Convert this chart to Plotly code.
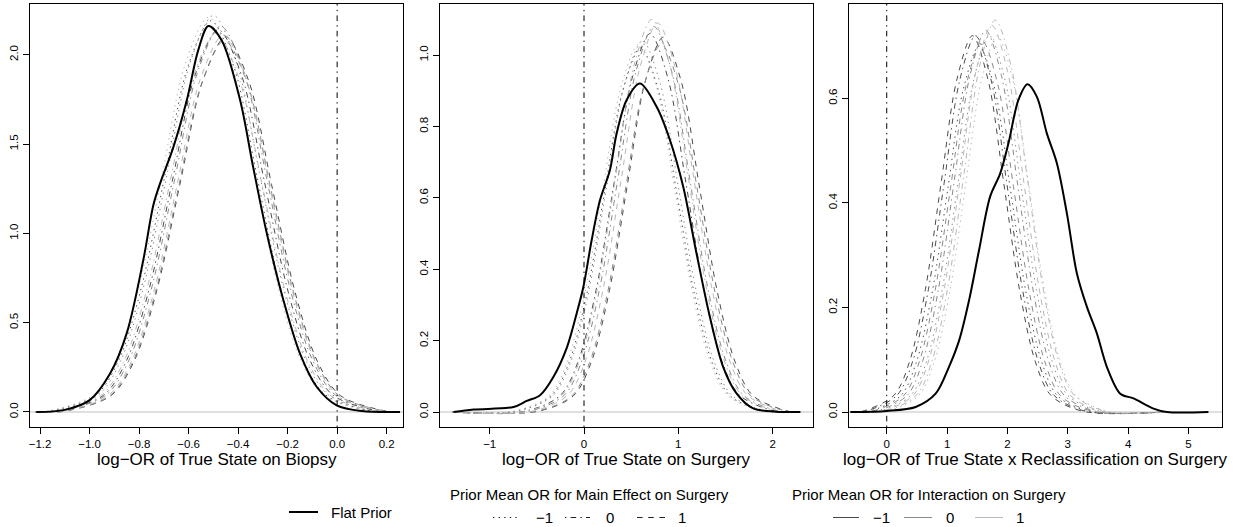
import plotly.graph_objects as go

# ---------------- data ----------------
# Panel 1: log-OR of True State on Biopsy
bio_flat_x = [-1.215, -1.10, -0.998, -0.917, -0.85, -0.783, -0.742, -0.715, -0.662, -0.607, -0.561, -0.52,
              -0.466, -0.392, -0.339, -0.284, -0.217, -0.15, -0.082, -0.002, 0.10, 0.254]
bio_flat_y = [0.0, 0.012, 0.068, 0.215, 0.44, 0.85, 1.16, 1.28, 1.48, 1.746, 2.026, 2.161,
              2.08, 1.746, 1.37, 1.0, 0.626, 0.327, 0.14, 0.0375, 0.005, 0.0]

bio_dot_dk_x = [-1.22, -1.158, -0.973, -0.880, -0.788, -0.695, -0.603, -0.510, -0.417, -0.325, -0.232, -0.140, -0.047, 0.138, 0.25]
bio_dot_dk_y = [0, 0.005, 0.096, 0.296, 0.711, 1.328, 1.933, 2.19, 1.933, 1.328, 0.711, 0.296, 0.096, 0.005, 0]
bio_dot_md_x = [-1.22, -1.148, -0.963, -0.870, -0.778, -0.685, -0.593, -0.500, -0.407, -0.315, -0.222, -0.130, -0.037, 0.148, 0.25]
bio_dot_md_y = [0, 0.005, 0.097, 0.300, 0.721, 1.346, 1.959, 2.22, 1.959, 1.346, 0.721, 0.300, 0.097, 0.005, 0]
bio_dot_lt_x = [-1.22, -1.168, -0.983, -0.890, -0.798, -0.705, -0.613, -0.520, -0.427, -0.335, -0.242, -0.150, -0.057, 0.128, 0.25]
bio_dot_lt_y = [0, 0.005, 0.097, 0.299, 0.718, 1.340, 1.950, 2.21, 1.950, 1.340, 0.718, 0.299, 0.097, 0.005, 0]
bio_dd_dk_x = [-1.22, -1.128, -0.943, -0.850, -0.758, -0.665, -0.573, -0.480, -0.387, -0.295, -0.202, -0.110, -0.017, 0.168, 0.25]
bio_dd_dk_y = [0, 0.005, 0.094, 0.290, 0.695, 1.298, 1.889, 2.14, 1.889, 1.298, 0.695, 0.290, 0.094, 0.005, 0]
bio_dd_md_x = [-1.22, -1.118, -0.933, -0.840, -0.748, -0.655, -0.563, -0.470, -0.377, -0.285, -0.192, -0.100, -0.007, 0.178, 0.25]
bio_dd_md_y = [0, 0.005, 0.095, 0.292, 0.701, 1.310, 1.906, 2.16, 1.906, 1.310, 0.701, 0.292, 0.095, 0.005, 0]
bio_dd_lt_x = [-1.22, -1.138, -0.953, -0.860, -0.768, -0.675, -0.583, -0.490, -0.397, -0.305, -0.212, -0.120, -0.027, 0.158, 0.25]
bio_dd_lt_y = [0, 0.005, 0.093, 0.287, 0.688, 1.286, 1.871, 2.12, 1.871, 1.286, 0.688, 0.287, 0.093, 0.005, 0]
bio_da_dk_x = [-1.22, -1.098, -0.913, -0.820, -0.728, -0.635, -0.543, -0.450, -0.357, -0.265, -0.172, -0.080, 0.013, 0.198, 0.25]
bio_da_dk_y = [0, 0.005, 0.092, 0.284, 0.682, 1.274, 1.853, 2.10, 1.853, 1.274, 0.682, 0.284, 0.092, 0.005, 0]
bio_da_md_x = [-1.22, -1.103, -0.918, -0.825, -0.733, -0.640, -0.548, -0.455, -0.362, -0.270, -0.177, -0.085, 0.008, 0.193, 0.25]
bio_da_md_y = [0, 0.005, 0.091, 0.281, 0.675, 1.262, 1.836, 2.08, 1.836, 1.262, 0.675, 0.281, 0.091, 0.005, 0]
bio_da_lt_x = [-1.22, -1.108, -0.923, -0.830, -0.738, -0.645, -0.553, -0.460, -0.367, -0.275, -0.182, -0.090, 0.003, 0.188, 0.25]
bio_da_lt_y = [0, 0.005, 0.093, 0.285, 0.685, 1.280, 1.862, 2.11, 1.862, 1.280, 0.685, 0.285, 0.093, 0.005, 0]

# Panel 2: log-OR of True State on Surgery
sur_flat_x = [-1.384, -1.17, -0.748, -0.607, -0.466, -0.325, -0.18, -0.078, -0.007, 0.081, 0.169, 0.275, 0.346,
              0.452, 0.593, 0.770, 0.911, 1.052, 1.193, 1.335, 1.476, 1.617, 1.793, 2.04, 2.29]
sur_flat_y = [0.0, 0.007, 0.014, 0.031, 0.047, 0.098, 0.182, 0.276, 0.35, 0.481, 0.593, 0.678, 0.78,
              0.874, 0.92, 0.855, 0.762, 0.631, 0.444, 0.266, 0.126, 0.052, 0.01, 0.001, 0.0]

sur_dot_dk_x = [-1.40, -0.73, -0.35, -0.16, 0.03, 0.22, 0.41, 0.60, 0.79, 0.98, 1.17, 1.36, 1.55, 1.93, 2.30]
sur_dot_dk_y = [0, 0.002, 0.045, 0.138, 0.331, 0.619, 0.900, 1.02, 0.900, 0.619, 0.331, 0.138, 0.045, 0.002, 0]
sur_dot_md_x = [-1.40, -0.71, -0.33, -0.14, 0.05, 0.24, 0.43, 0.62, 0.81, 1.00, 1.19, 1.38, 1.57, 1.95, 2.30]
sur_dot_md_y = [0, 0.002, 0.046, 0.141, 0.338, 0.631, 0.918, 1.04, 0.918, 0.631, 0.338, 0.141, 0.046, 0.002, 0]
sur_dot_lt_x = [-1.40, -0.75, -0.37, -0.18, 0.01, 0.20, 0.39, 0.58, 0.77, 0.96, 1.15, 1.34, 1.53, 1.91, 2.30]
sur_dot_lt_y = [0, 0.002, 0.045, 0.139, 0.334, 0.625, 0.909, 1.03, 0.909, 0.625, 0.334, 0.139, 0.045, 0.002, 0]
sur_dd_dk_x = [-1.40, -0.63, -0.25, -0.06, 0.13, 0.32, 0.51, 0.70, 0.89, 1.08, 1.27, 1.46, 1.65, 2.03, 2.30]
sur_dd_dk_y = [0, 0.002, 0.047, 0.143, 0.344, 0.643, 0.935, 1.06, 0.935, 0.643, 0.344, 0.143, 0.047, 0.002, 0]
sur_dd_md_x = [-1.40, -0.59, -0.21, -0.02, 0.17, 0.36, 0.55, 0.74, 0.93, 1.12, 1.31, 1.50, 1.69, 2.07, 2.30]
sur_dd_md_y = [0, 0.002, 0.047, 0.146, 0.351, 0.655, 0.953, 1.08, 0.953, 0.655, 0.351, 0.146, 0.047, 0.002, 0]
sur_dd_lt_x = [-1.40, -0.61, -0.23, -0.04, 0.15, 0.34, 0.53, 0.72, 0.91, 1.10, 1.29, 1.48, 1.67, 2.05, 2.30]
sur_dd_lt_y = [0, 0.002, 0.048, 0.149, 0.357, 0.667, 0.971, 1.10, 0.971, 0.667, 0.357, 0.149, 0.048, 0.002, 0]
sur_da_dk_x = [-1.40, -0.49, -0.11, 0.08, 0.27, 0.46, 0.65, 0.84, 1.03, 1.22, 1.41, 1.60, 1.79, 2.17, 2.30]
sur_da_dk_y = [0, 0.002, 0.046, 0.142, 0.341, 0.637, 0.927, 1.05, 0.927, 0.637, 0.341, 0.142, 0.046, 0.002, 0]
sur_da_md_x = [-1.40, -0.51, -0.13, 0.06, 0.25, 0.44, 0.63, 0.82, 1.01, 1.20, 1.39, 1.58, 1.77, 2.15, 2.30]
sur_da_md_y = [0, 0.002, 0.045, 0.139, 0.334, 0.625, 0.909, 1.03, 0.909, 0.625, 0.334, 0.139, 0.045, 0.002, 0]
sur_da_lt_x = [-1.40, -0.55, -0.17, 0.02, 0.21, 0.40, 0.59, 0.78, 0.97, 1.16, 1.35, 1.54, 1.73, 2.11, 2.30]
sur_da_lt_y = [0, 0.002, 0.048, 0.147, 0.354, 0.661, 0.962, 1.09, 0.962, 0.661, 0.354, 0.147, 0.048, 0.002, 0]

# Panel 3: log-OR of True State x Reclassification on Surgery
int_flat_x = [-0.60, 0.0, 0.48, 0.81, 1.03, 1.20, 1.365, 1.53, 1.713, 1.879, 2.017, 2.182, 2.332, 2.488, 2.653,
              2.819, 2.985, 3.151, 3.317, 3.483, 3.648, 3.869, 4.09, 4.42, 4.64, 5.33]
int_flat_y = [0.0, 0.002, 0.0096, 0.035, 0.086, 0.137, 0.214, 0.31, 0.412, 0.456, 0.514, 0.597, 0.627, 0.603, 0.533,
              0.476, 0.380, 0.265, 0.201, 0.150, 0.086, 0.035, 0.026, 0.0065, 0.0, 0.0]

int_da_dk_x = [-0.60, -0.40, 0.12, 0.38, 0.64, 0.90, 1.16, 1.42, 1.68, 1.94, 2.20, 2.46, 2.72, 3.24, 4.60]
int_da_dk_y = [0, 0.0016, 0.032, 0.097, 0.234, 0.437, 0.635, 0.72, 0.635, 0.437, 0.234, 0.097, 0.032, 0.0016, 0]
int_dd_dk_x = [-0.60, -0.35, 0.17, 0.43, 0.69, 0.95, 1.21, 1.47, 1.73, 1.99, 2.25, 2.51, 2.77, 3.29, 4.60]
int_dd_dk_y = [0, 0.0016, 0.032, 0.097, 0.234, 0.437, 0.635, 0.72, 0.635, 0.437, 0.234, 0.097, 0.032, 0.0016, 0]
int_dot_dk_x = [-0.60, -0.29, 0.23, 0.49, 0.75, 1.01, 1.27, 1.53, 1.79, 2.05, 2.31, 2.57, 2.83, 3.35, 4.60]
int_dot_dk_y = [0, 0.0015, 0.031, 0.095, 0.227, 0.425, 0.618, 0.70, 0.618, 0.425, 0.227, 0.095, 0.031, 0.0015, 0]
int_da_md_x = [-0.60, -0.24, 0.28, 0.54, 0.80, 1.06, 1.32, 1.58, 1.84, 2.10, 2.36, 2.62, 2.88, 3.40, 4.60]
int_da_md_y = [0, 0.0016, 0.031, 0.096, 0.231, 0.431, 0.627, 0.71, 0.627, 0.431, 0.231, 0.096, 0.031, 0.0016, 0]
int_dd_md_x = [-0.60, -0.18, 0.34, 0.60, 0.86, 1.12, 1.38, 1.64, 1.90, 2.16, 2.42, 2.68, 2.94, 3.46, 4.60]
int_dd_md_y = [0, 0.0016, 0.032, 0.099, 0.237, 0.443, 0.644, 0.73, 0.644, 0.443, 0.237, 0.099, 0.032, 0.0016, 0]
int_dot_md_x = [-0.60, -0.12, 0.40, 0.66, 0.92, 1.18, 1.44, 1.70, 1.96, 2.22, 2.48, 2.74, 3.00, 3.52, 4.60]
int_dot_md_y = [0, 0.0016, 0.032, 0.097, 0.234, 0.437, 0.635, 0.72, 0.635, 0.437, 0.234, 0.097, 0.032, 0.0016, 0]
int_da_lt_x = [-0.60, -0.08, 0.44, 0.70, 0.96, 1.22, 1.48, 1.74, 2.00, 2.26, 2.52, 2.78, 3.04, 3.56, 4.60]
int_da_lt_y = [0, 0.0016, 0.032, 0.100, 0.240, 0.449, 0.653, 0.74, 0.653, 0.449, 0.240, 0.100, 0.032, 0.0016, 0]
int_dd_lt_x = [-0.60, -0.02, 0.50, 0.76, 1.02, 1.28, 1.54, 1.80, 2.06, 2.32, 2.58, 2.84, 3.10, 3.62, 4.60]
int_dd_lt_y = [0, 0.0017, 0.033, 0.101, 0.244, 0.455, 0.662, 0.75, 0.662, 0.455, 0.244, 0.101, 0.033, 0.0017, 0]
int_dot_lt_x = [-0.60, 0.01, 0.53, 0.79, 1.05, 1.31, 1.57, 1.83, 2.09, 2.35, 2.61, 2.87, 3.13, 3.65, 4.60]
int_dot_lt_y = [0, 0.0016, 0.032, 0.097, 0.234, 0.437, 0.635, 0.72, 0.635, 0.437, 0.234, 0.097, 0.032, 0.0016, 0]

# tick labels / axis titles / legend labels
bio_xticks = [-1.2, -1.0, -0.8, -0.6, -0.4, -0.2, 0.0, 0.2]
bio_yticks = [0.0, 0.5, 1.0, 1.5, 2.0]
sur_xticks = [-1, 0, 1, 2]
sur_yticks = [0.0, 0.2, 0.4, 0.6, 0.8, 1.0]
int_xticks = [0, 1, 2, 3, 4, 5]
int_yticks = [0.0, 0.2, 0.4, 0.6]
axis_titles = ["log\u2212OR of True State on Biopsy",
               "log\u2212OR of True State on Surgery",
               "log\u2212OR of True State x Reclassification on Surgery"]
main_levels = ["\u22121", "0", "1"]
inter_levels = ["\u22121", "0", "1"]

# ---------------- styles ----------------
W, H = 1239, 527
FONT = "Liberation Sans, Arial, Helvetica, sans-serif"
DOT = "1.4px,4.2px"
DOTDASH = "1.4px,4.2px,5.6px,4.2px"
DASH = "5.6px,5.6px"
DASHES = {"dot": DOT, "dd": DOTDASH, "da": DASH}
COLS = {"dk": "#4a4a4a", "md": "#8a8a8a", "lt": "#b8b8b8"}

fig = go.Figure()
g = globals()
panels = [("bio", "x", "y"), ("sur", "x2", "y2"), ("int", "x3", "y3")]
for pre, xa, ya in panels:
    for lt in ["dot", "dd", "da"]:
        for cl in ["dk", "md", "lt"]:
            fig.add_trace(go.Scatter(
                x=g[f"{pre}_{lt}_{cl}_x"], y=g[f"{pre}_{lt}_{cl}_y"], mode="lines",
                line=dict(color=COLS[cl], width=1, dash=DASHES[lt], shape="spline", smoothing=0.9),
                xaxis=xa, yaxis=ya, showlegend=False, hoverinfo="skip"))
    fig.add_trace(go.Scatter(
        x=g[f"{pre}_flat_x"], y=g[f"{pre}_flat_y"], mode="lines",
        line=dict(color="black", width=2, shape="spline", smoothing=0.9),
        xaxis=xa, yaxis=ya, showlegend=False, hoverinfo="skip"))

# panel geometry in pixels
pl = [(30, 403), (440, 813), (849, 1222)]
ptop, pbot = 4, 427
ranges_x = [[-1.2405, 0.266], [-1.527, 2.428], [-0.625, 5.555]]
ranges_y = [[-0.084, 2.284], [-0.042, 1.143], [-0.0287, 0.7806]]
xticks = [bio_xticks, sur_xticks, int_xticks]
yticks = [bio_yticks, sur_yticks, int_yticks]
xfmt = [".1f", "d", "d"]

axis_common = dict(showline=True, mirror=True, linecolor="black", linewidth=1, ticks="outside",
                   ticklen=6, tickwidth=1, tickcolor="black", showgrid=False, zeroline=False,
                   tickfont=dict(family=FONT, size=11.5, color="black"), fixedrange=True)

layout = dict(width=W, height=H, margin=dict(l=0, r=0, t=0, b=0),
              plot_bgcolor="white", paper_bgcolor="white", showlegend=False)
shapes = []
annotations = []
for i in range(3):
    sx = "" if i == 0 else str(i + 1)
    x0, x1 = pl[i]
    layout[f"xaxis{sx}"] = dict(axis_common, domain=[x0 / W, x1 / W], range=ranges_x[i],
                                tickvals=xticks[i], tickformat=xfmt[i], anchor=f"y{sx}")
    layout[f"yaxis{sx}"] = dict(axis_common, domain=[1 - pbot / H, 1 - ptop / H], range=ranges_y[i],
                                tickvals=yticks[i], tickformat=".1f", tickangle=-90, anchor=f"x{sx}")
    shapes.append(dict(type="line", xref=f"x{sx} domain", yref=f"y{sx}", x0=0, x1=1, y0=0, y1=0,
                       line=dict(color="#c0c0c0", width=1), layer="below"))
    shapes.append(dict(type="line", xref=f"x{sx}", yref=f"y{sx} domain", x0=0, x1=0, y0=0, y1=1,
                       line=dict(color="black", width=1, dash=DOTDASH)))
    annotations.append(dict(text=axis_titles[i], xref="paper", yref="paper", x=(x0 + x1) / 2 / W,
                            y=1 - 459 / H, xanchor="center", yanchor="middle", showarrow=False,
                            font=dict(family=FONT, size=17, color="black")))

# legend drawn with layout shapes and text
def hline(xa, xb, ypx, color, width, dash="solid"):
    shapes.append(dict(type="line", xref="paper", yref="paper", x0=xa / W, x1=xb / W,
                       y0=1 - ypx / H, y1=1 - ypx / H, line=dict(color=color, width=width, dash=dash)))

def label(txt, xpx, ypx, size=15):
    annotations.append(dict(text=txt, xref="paper", yref="paper", x=xpx / W, y=1 - ypx / H,
                            xanchor="left", yanchor="middle", showarrow=False,
                            font=dict(family=FONT, size=size, color="black")))

hline(289, 318, 512, "black", 2)
label("Flat Prior", 329, 512)
label("Prior Mean OR for Main Effect on Surgery", 448, 494)
for (xa, xb, tx), dsh, lab in zip([(493, 517, 534), (565, 590, 604), (637, 665, 676)],
                                  [DOT, DOTDASH, DASH], main_levels):
    hline(xa, xb, 517.5, "#222222", 1, dsh)
    label(lab, tx, 517)
label("Prior Mean OR for Interaction on Surgery", 790, 494)
for (xa, xb, tx), col, lab in zip([(833, 859, 871), (904, 932, 944), (975, 1003, 1014)],
                                  [COLS["dk"], COLS["md"], COLS["lt"]], inter_levels):
    hline(xa, xb, 517.5, col, 1)
    label(lab, tx, 517)

layout["shapes"] = shapes
layout["annotations"] = annotations
fig.update_layout(**layout)
fig.write_html("out.html", config={"displayModeBar": False},
               post_script="document.body.style.margin='0';document.body.style.overflow='hidden';")
